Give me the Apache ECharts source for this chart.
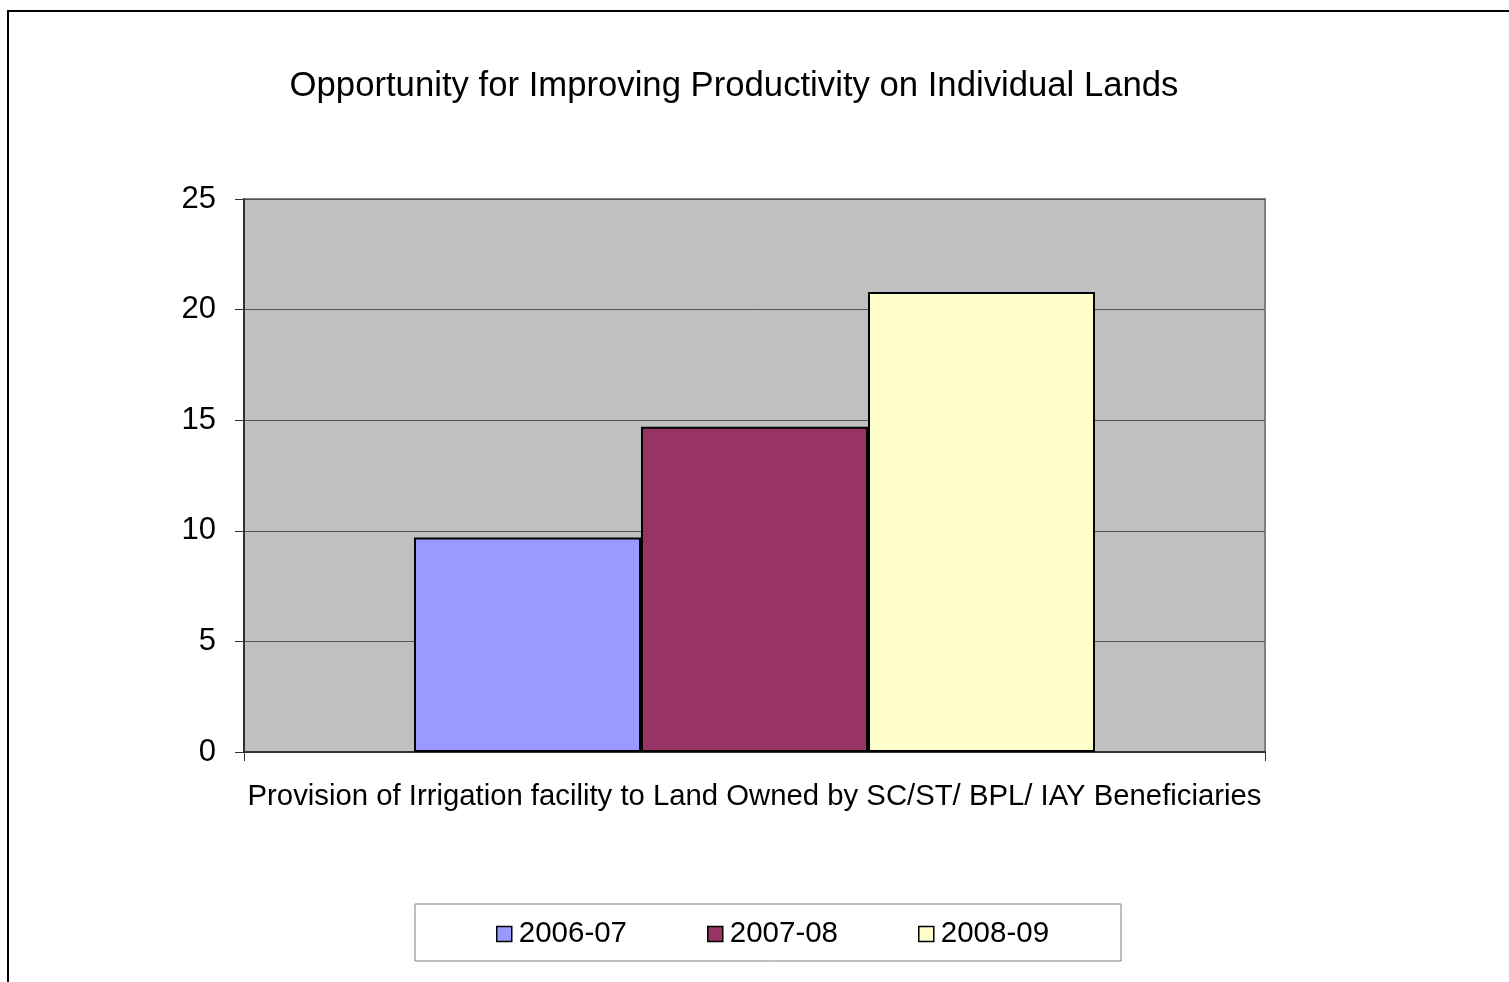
<!DOCTYPE html>
<html>
<head>
<meta charset="utf-8">
<script src="https://cdn.jsdelivr.net/npm/echarts@6/dist/echarts.min.js"></script>
<style>
  html, body { margin: 0; padding: 0; background: #fff; }
  #chart { width: 1509px; height: 982px; }
</style>
</head>
<body>
<div id="chart"></div>
<script>
// data
const categories = ["Provision of Irrigation facility to Land Owned by SC/ST/ BPL/ IAY Beneficiaries"];
const seriesNames = ["2006-07", "2007-08", "2008-09"];
const values_0607 = [9.7];
const values_0708 = [14.7];
const values_0809 = [20.8];
const colors = ["#9999FF", "#993366", "#FFFFCC"];

const font = "'Liberation Sans', Arial, sans-serif";
const allValues = [values_0607, values_0708, values_0809];

const chart = echarts.init(document.getElementById("chart"));
chart.setOption({
  animation: false,
  backgroundColor: "#fff",
  textStyle: { fontFamily: font },
  title: {
    text: "Opportunity for Improving Productivity on Individual Lands",
    left: 729,
    top: 64,
    textAlign: "center",
    textStyle: { fontFamily: font, fontSize: 34.7, fontWeight: "normal", color: "#000" },
  },
  graphic: [
    {
      type: "rect",
      shape: { x: 8, y: 11, width: 1600, height: 1100 },
      style: { fill: "none", stroke: "#000", lineWidth: 2 },
      silent: true,
    },
  ],
  grid: {
    left: 244,
    right: 244,
    top: 199,
    bottom: 230,
    show: true,
    backgroundColor: "#C0C0C0",
    borderColor: "#808080",
    borderWidth: 2,
  },
  legend: {
    data: seriesNames,
    left: 415,
    top: 904,
    padding: [15, 72, 12, 81],
    itemGap: 80,
    itemWidth: 15,
    itemHeight: 15,
    icon: "rect",
    backgroundColor: "#fff",
    borderColor: "#808080",
    borderWidth: 1,
    textStyle: { fontFamily: font, fontSize: 29.5, color: "#000", padding: [0, 0, 0, 2] },
    itemStyle: { borderColor: "#000", borderWidth: 1.5 },
  },
  xAxis: {
    type: "category",
    data: categories,
    axisLine: { lineStyle: { color: "#333", width: 2 } },
    axisTick: { show: true, length: 9, lineStyle: { color: "#333" } },
    axisLabel: { margin: 30, fontFamily: font, fontSize: 29.3, color: "#000" },
  },
  yAxis: {
    type: "value",
    min: 0,
    max: 25,
    interval: 5,
    axisLine: { show: true, lineStyle: { color: "#333", width: 2 } },
    axisTick: { show: true, length: 9, lineStyle: { color: "#333" } },
    axisLabel: { margin: 28, fontFamily: font, fontSize: 31, color: "#000" },
    splitLine: { show: true, lineStyle: { color: "#555", width: 1 } },
  },
  series: seriesNames.map((name, i) => ({
    name: name,
    type: "bar",
    data: allValues[i],
    barGap: "0%",
    barCategoryGap: "33.3%",
    itemStyle: { color: colors[i], borderColor: "#000", borderWidth: 2 },
  })),
});
</script>
</body>
</html>
